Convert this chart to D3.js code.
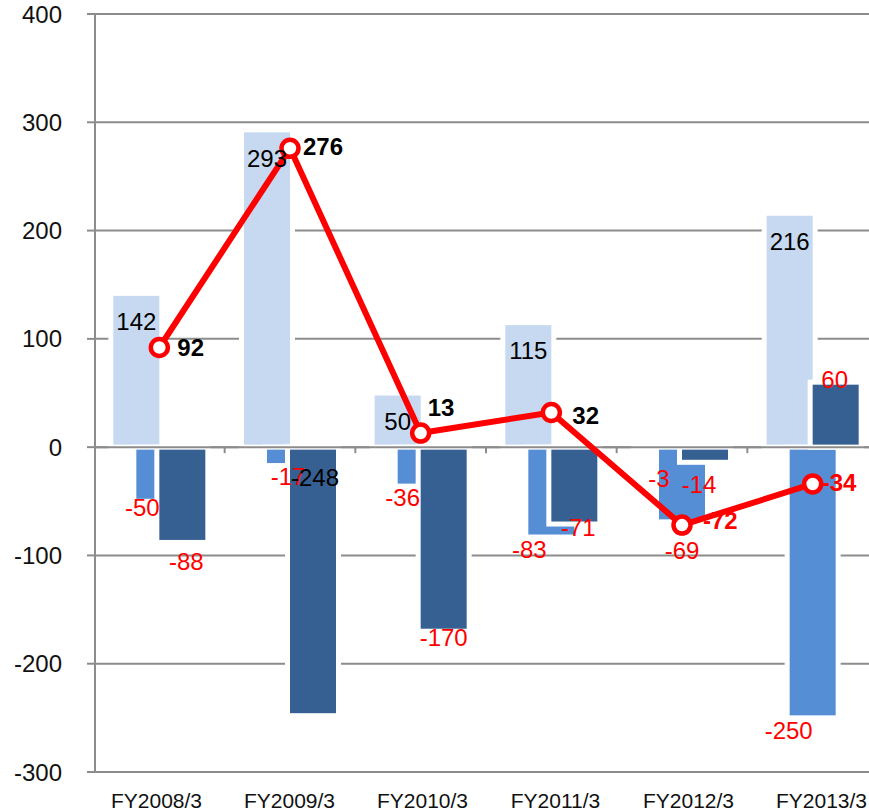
<!DOCTYPE html>
<html>
<head>
<meta charset="utf-8">
<script src="https://cdn.jsdelivr.net/npm/d3@7"></script>
<style>
  body { margin: 0; background: #fff; }
  svg { display: block; font-family: "Liberation Sans", Arial, sans-serif; }
</style>
</head>
<body>
<svg id="chart" width="869" height="811"></svg>
<script>
// data

var categories = ["FY2008/3", "FY2009/3", "FY2010/3", "FY2011/3", "FY2012/3", "FY2013/3"];
var lightValues = [142, 293, 50, 115, -3, 216];
var mediumValues = [-50, -17, -36, -83, -69, -250];
var darkValues = [-88, -248, -170, -71, -14, 60];
var lineValues = [92, 276, 13, 32, -72, -34];
var yTicks = [-300, -200, -100, 0, 100, 200, 300, 400];

// hand placed label offsets (dx, dy from the bar end / point), like the dragged labels in the original
var mediumNudge = [[-17, 6], [-2, 11], [-18, 11], [-22, 12], [0, 28], [-24, 13]];
var darkNudge = [[4, 19], [2, -238], [0, 6], [4, 3], [-6, 22], [-1, -3]];
var lineNudge = [[18, 0], [13, -2], [7, -26], [21, 3], [21, -5], [9, -2]];
var darkLabelColor = ["#ff0000", "#000", "#ff0000", "#ff0000", "#ff0000", "#ff0000"];

var colors = {
    light: "#c6d9f0",
    medium: "#558ed5",
    dark: "#376092",
    red: "#ff0000",
    grid: "#8c8c8c"
};

var svg = d3.select("#chart");

var y = d3.scaleLinear().domain([-300, 400]).range([772, 14]);

// bars
var x = d3.scaleBand().domain(categories).range([94, 878]);
// axis labels sit on a slightly wider spacing
var xLabel = d3.scaleBand().domain(categories).range([90, 888]);
var sub = d3.scalePoint().domain(["light", "medium", "dark"]).range([-23, 23]);

var barW = 51;

function center(c) { return x(c) + x.bandwidth() / 2; }

// gridlines
svg.append("g")
    .selectAll("line")
    .data(yTicks)
    .enter()
    .append("line")
    .attr("x1", 95)
    .attr("x2", 869)
    .attr("y1", function (d) { return y(d); })
    .attr("y2", function (d) { return y(d); })
    .style("stroke", colors.grid)
    .style("stroke-width", 2);

// tick marks
svg.append("g")
    .selectAll("line")
    .data(yTicks)
    .enter()
    .append("line")
    .attr("x1", 87)
    .attr("x2", 95)
    .attr("y1", function (d) { return y(d); })
    .attr("y2", function (d) { return y(d); })
    .style("stroke", colors.grid)
    .style("stroke-width", 2);

svg.append("g")
    .selectAll("text")
    .data(yTicks)
    .enter()
    .append("text")
    .attr("x", 62)
    .attr("y", function (d) { return y(d); })
    .attr("dy", "0.36em")
    .attr("text-anchor", "end")
    .style("font-size", "24px")
    .style("fill", "#111")
    .text(function (d) { return d; });

// bar series
var series = [
    { key: "light", values: lightValues },
    { key: "medium", values: mediumValues },
    { key: "dark", values: darkValues }
];

series.forEach(function (s) {
    svg.append("g")
        .attr("class", "bars-" + s.key)
        .selectAll("rect")
        .data(s.values)
        .enter()
        .append("rect")
        .attr("x", function (d, i) { return center(categories[i]) + sub(s.key) - barW / 2; })
        .attr("width", barW)
        .attr("y", function (d) { return y(Math.max(0, d)); })
        .attr("height", function (d) { return Math.abs(y(d) - y(0)); })
        .attr("fill", colors[s.key])
        .style("stroke", "#fff")
        .style("stroke-width", 5);
});

// zero line + category ticks on top of the bars
svg.append("line")
    .attr("x1", 95)
    .attr("x2", 869)
    .attr("y1", y(0))
    .attr("y2", y(0))
    .style("stroke", colors.grid)
    .style("stroke-width", 2);

svg.append("g")
    .selectAll("line")
    .data(categories.slice(1))
    .enter()
    .append("line")
    .attr("x1", function (d) { return x(d); })
    .attr("x2", function (d) { return x(d); })
    .attr("y1", y(0))
    .attr("y2", y(0) + 6)
    .style("stroke", colors.grid)
    .style("stroke-width", 2);

// y axis line
svg.append("line")
    .attr("x1", 95)
    .attr("x2", 95)
    .attr("y1", y(400))
    .attr("y2", y(-300))
    .style("stroke", colors.grid)
    .style("stroke-width", 2);

// category labels
svg.append("g")
    .selectAll("text")
    .data(categories)
    .enter()
    .append("text")
    .attr("x", function (d) { return xLabel(d) + xLabel.bandwidth() / 2; })
    .attr("y", 808)
    .attr("text-anchor", "middle")
    .style("font-size", "21px")
    .style("fill", "#111")
    .text(function (d) { return d; });

// line
var line = d3.line()
    .x(function (d, i) { return center(categories[i]); })
    .y(function (d) { return y(d); });

svg.append("path")
    .datum(lineValues)
    .attr("d", line)
    .style("fill", "none")
    .style("stroke", colors.red)
    .style("stroke-width", 6)
    .style("stroke-linejoin", "round");

svg.append("g")
    .selectAll("circle")
    .data(lineValues)
    .enter()
    .append("circle")
    .attr("cx", function (d, i) { return center(categories[i]); })
    .attr("cy", function (d) { return y(d); })
    .attr("r", 8.5)
    .style("fill", "#fff")
    .style("stroke", colors.red)
    .style("stroke-width", 4.5);

// labels
svg.append("g")
    .selectAll("text")
    .data(lightValues)
    .enter()
    .append("text")
    .attr("x", function (d, i) { return center(categories[i]) + sub("light"); })
    .attr("y", function (d) { return y(d) + 28; })
    .attr("dy", "0.36em")
    .attr("text-anchor", "middle")
    .style("font-size", "24px")
    .style("fill", function (d) { return d < 0 ? colors.red : "#000"; })
    .text(function (d) { return d; });

svg.append("g")
    .selectAll("text")
    .data(mediumValues)
    .enter()
    .append("text")
    .attr("x", function (d, i) { return center(categories[i]) + sub("medium") + mediumNudge[i][0]; })
    .attr("y", function (d, i) { return y(d) + mediumNudge[i][1]; })
    .attr("dy", "0.36em")
    .attr("text-anchor", "middle")
    .style("font-size", "24px")
    .style("fill", function (d) { return d < 0 ? colors.red : "#000"; })
    .text(function (d) { return d; });

svg.append("g")
    .selectAll("text")
    .data(darkValues)
    .enter()
    .append("text")
    .attr("x", function (d, i) { return center(categories[i]) + sub("dark") + darkNudge[i][0]; })
    .attr("y", function (d, i) { return y(d) + darkNudge[i][1]; })
    .attr("dy", "0.36em")
    .attr("text-anchor", "middle")
    .style("font-size", "24px")
    .style("fill", function (d, i) { return darkLabelColor[i]; })
    .text(function (d) { return d; });

svg.append("g")
    .selectAll("text")
    .data(lineValues)
    .enter()
    .append("text")
    .attr("x", function (d, i) { return center(categories[i]) + lineNudge[i][0]; })
    .attr("y", function (d, i) { return y(d) + lineNudge[i][1]; })
    .attr("dy", "0.36em")
    .attr("text-anchor", "start")
    .style("font-size", "24px")
    .style("font-weight", "bold")
    .style("fill", function (d) { return d < 0 ? colors.red : "#000"; })
    .text(function (d) { return d; });
</script>
</body>
</html>
